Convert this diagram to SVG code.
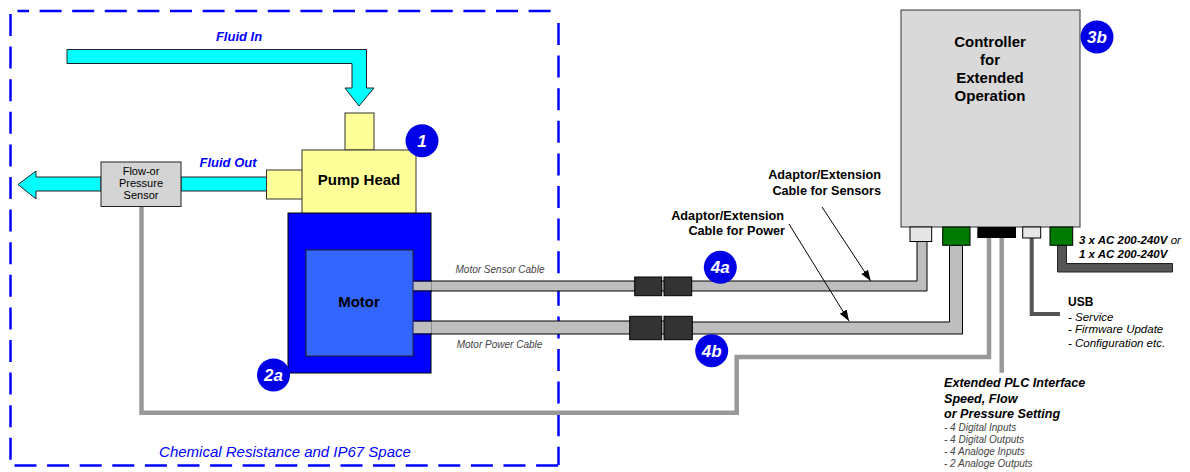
<svg xmlns="http://www.w3.org/2000/svg" width="1190" height="472" viewBox="0 0 1190 472">
<style>
text{font-family:"Liberation Sans",Arial,sans-serif;fill:#000}
.b{font-weight:bold}
.i{font-style:italic}
.bi{font-weight:bold;font-style:italic}
.blue{fill:#0000ff}
.badge circle{fill:#0000e6}
.badge text{fill:#fff;font-weight:bold;font-style:italic;font-size:17px;text-anchor:middle}
.ln{stroke:#000;stroke-width:1}
.dash{fill:none;stroke:#0000ff;stroke-width:2.5;stroke-dasharray:22 10.6}
.cable{fill:#bebebe;stroke:#000;stroke-width:1}
.cablefill{fill:#bebebe}
.conn{fill:#333;stroke:#000;stroke-width:1}
.thin{fill:none;stroke:#999;stroke-width:4.5}
.port{fill:#e6e6e6;stroke:#000;stroke-width:1}
.green{fill:#007a00;stroke:#000;stroke-width:1}
.yellow{fill:#ffff99;stroke:#333;stroke-width:1}
.cyan{fill:#00ffff;stroke:#222;stroke-width:1}
.note{font-style:italic;font-size:10px;fill:#444}
.m{font-size:11.5px;font-weight:bold;font-style:italic}
.u{font-size:11.5px;font-style:italic}
</style>
<defs>
<marker id="ah" markerUnits="userSpaceOnUse" markerWidth="12" markerHeight="10" refX="11" refY="4" orient="auto"><path d="M0,0 L11,4 L0,8 Z" fill="#000"/></marker>
</defs>
<g id="space">
<line class="dash" x1="17.5" y1="11" x2="559" y2="11" stroke-dashoffset="10.5"/>
<line class="dash" x1="10.5" y1="14" x2="10.5" y2="465"/>
<line class="dash" x1="558.5" y1="23" x2="558.5" y2="465"/>
<line class="dash" x1="14.5" y1="465.5" x2="559" y2="465.5"/>
</g>
<text class="bi blue" x="239" y="41" font-size="13" text-anchor="middle">Fluid In</text>
<text class="bi blue" x="228" y="167" font-size="13" text-anchor="middle">Fluid Out</text>
<text class="i blue" x="285" y="457" font-size="15" text-anchor="middle">Chemical Resistance and IP67 Space</text>

<g id="connectors">
<path class="thin" d="M141.5,206 V412.7 H736.7 V357 H989 V238"/>
<path class="thin" d="M1001.7,238 V372.7"/>
<polygon class="cyan" points="67,49.5 366.5,49.5 366.5,88 374,88 359,106 345,88 352,88 352,63.5 67,63.5"/>
<rect class="cyan" x="181" y="177" width="86" height="14"/>
<polygon class="cyan" points="101,177 36,177 36,171 18,184.5 36,199 36,191 101,191"/>
<polygon class="cable" points="413,281 917,281 917,241 927,241 927,291 413,291"/>
<polygon class="cable" points="413,321 692,321 692,322 949.5,322 949.5,245 962.5,245 962.5,334 413,334"/>
<path d="M1031.7,238 V314 H1060" fill="none" stroke="#555" stroke-width="4"/>
<polygon points="1057.5,245 1066.5,245 1066.5,263.5 1172.5,263.5 1172.5,272 1057.5,272" fill="#555" stroke="#222" stroke-width="1"/>
<line class="ln" x1="822" y1="207" x2="870.7" y2="281" marker-end="url(#ah)"/>
<line class="ln" x1="789" y1="224" x2="849" y2="321" marker-end="url(#ah)"/>
</g>

<g id="fluid-in-port"><rect class="yellow" x="345" y="113" width="29" height="37"/></g>
<g id="fluid-out-port"><rect class="yellow" x="266.5" y="170" width="36" height="29"/></g>
<g id="pump-head">
<rect class="yellow" x="302" y="150" width="114" height="64"/>
<text class="b" x="359" y="185" font-size="15" text-anchor="middle">Pump Head</text>
</g>
<g id="motor">
<rect x="288" y="213" width="143" height="160" fill="#0000ff" stroke="#000"/>
<rect x="306" y="250" width="107" height="106" fill="#3366ff" stroke="#222"/>
<text class="b" x="359" y="307" font-size="15" text-anchor="middle">Motor</text>
</g>
<g id="motor-cable-ends">
<rect class="cablefill" x="413.5" y="281.5" width="18" height="9"/>
<path d="M413.5,281 H432 M413.5,291 H432" stroke="#000" stroke-width="1"/>
<rect class="cablefill" x="413.5" y="321.5" width="18" height="12"/>
<path d="M413.5,321 H432 M413.5,334 H432" stroke="#000" stroke-width="1"/>
</g>
<g id="sensor">
<rect x="101" y="162" width="80" height="44.5" fill="#d4d4d4" stroke="#222"/>
<text x="141" y="175" font-size="11" text-anchor="middle">Flow-or</text>
<text x="141" y="187" font-size="11" text-anchor="middle">Pressure</text>
<text x="141" y="199" font-size="11" text-anchor="middle">Sensor</text>
</g>
<g id="controller">
<rect x="901" y="10" width="179" height="217" fill="#d9d9d9" stroke="#333"/>
<text class="b" x="990" y="47" font-size="15" text-anchor="middle">Controller</text>
<text class="b" x="990" y="65" font-size="15" text-anchor="middle">for</text>
<text class="b" x="990" y="83" font-size="15" text-anchor="middle">Extended</text>
<text class="b" x="990" y="101" font-size="15" text-anchor="middle">Operation</text>
</g>
<g id="controller-ports">
<rect class="port" x="910" y="227" width="21.7" height="14.5"/>
<rect class="green" x="942.7" y="227" width="27.3" height="18.3"/>
<rect x="977.3" y="227" width="38.7" height="11" fill="#000"/>
<rect class="port" x="1022.7" y="227" width="18" height="11"/>
<rect class="green" x="1050" y="227" width="22.7" height="18.3"/>
</g>
<g id="connector-4a">
<rect class="conn" x="634.7" y="277" width="27" height="18.7"/>
<rect class="conn" x="664" y="277" width="27.7" height="18.7"/>
</g>
<g id="connector-4b">
<rect class="conn" x="629.7" y="316.3" width="32" height="23.4"/>
<rect class="conn" x="664" y="316.3" width="28.3" height="23.4"/>
</g>
<g id="badge-1" class="badge"><circle cx="422" cy="140.7" r="16.5"/><text x="422" y="147">1</text></g>
<g id="badge-2a" class="badge"><circle cx="273.5" cy="375" r="16.5"/><text x="273.5" y="381">2a</text></g>
<g id="badge-3b" class="badge"><circle cx="1097" cy="37" r="16.5"/><text x="1097" y="43">3b</text></g>
<g id="badge-4a" class="badge"><circle cx="720.3" cy="267.3" r="16.5"/><text x="720.3" y="273">4a</text></g>
<g id="badge-4b" class="badge"><circle cx="711.7" cy="350.7" r="16.5"/><text x="711.7" y="356.5">4b</text></g>

<text class="note" x="500" y="273" text-anchor="middle">Motor Sensor Cable</text>
<text class="note" x="499.5" y="348" text-anchor="middle">Motor Power Cable</text>
<text class="b" x="881" y="179" font-size="12.7" text-anchor="end">Adaptor/Extension</text>
<text class="b" x="881" y="195" font-size="12.7" text-anchor="end">Cable for Sensors</text>
<text class="b" x="784" y="220" font-size="12.7" text-anchor="end">Adaptor/Extension</text>
<text class="b" x="785" y="235" font-size="12.7" text-anchor="end">Cable for Power</text>
<text class="m" x="1079" y="244">3 x AC 200-240V <tspan font-weight="normal">or</tspan></text>
<text class="m" x="1079" y="258">1 x AC 200-240V</text>
<text class="b" x="1068" y="306" font-size="12">USB</text>
<text class="u" x="1068" y="321">- Service</text>
<text class="u" x="1068" y="333">- Firmware Update</text>
<text class="u" x="1068" y="347">- Configuration etc.</text>
<text class="bi" x="944" y="387" font-size="12.6">Extended PLC Interface</text>
<text class="bi" x="944" y="403" font-size="12.6">Speed, Flow</text>
<text class="bi" x="944" y="418" font-size="12.6">or Pressure Setting</text>
<text class="note" x="944" y="431">- 4 Digital Inputs</text>
<text class="note" x="944" y="443">- 4 Digital Outputs</text>
<text class="note" x="944" y="455">- 4 Analoge Inputs</text>
<text class="note" x="944" y="467">- 2 Analoge Outputs</text>
</svg>
